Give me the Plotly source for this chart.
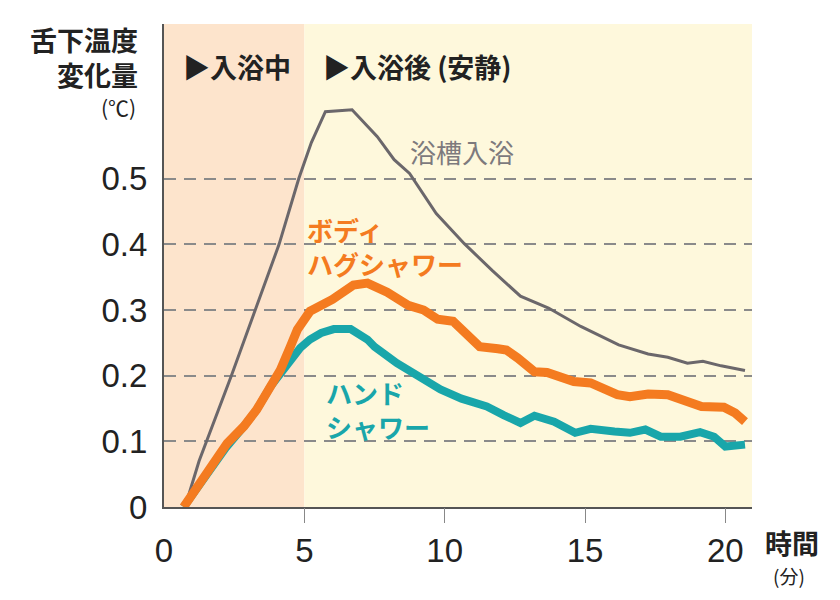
import plotly.graph_objects as go

# ---- data ----
x_tub = [0.75, 1.25, 2.4, 3.25, 4.1, 4.8, 5.25, 5.75, 6.7, 7.6, 8.2, 8.75, 9.7, 10.7,
         11.7, 12.7, 13.7, 14.85, 16.2, 17.25, 17.95, 18.65, 19.2, 19.85, 20.7]
y_tub = [0, 0.07, 0.2, 0.3, 0.4, 0.5, 0.555, 0.602, 0.605, 0.564, 0.529, 0.508, 0.447, 0.401,
         0.36, 0.321, 0.303, 0.275, 0.247, 0.233, 0.228, 0.219, 0.222, 0.215, 0.208]

x_body = [0.7, 1.5, 2.25, 2.85, 3.3, 3.8, 4.15, 4.5, 4.75, 5.2, 6.0, 6.75, 7.25, 7.95, 8.7,
          9.25, 9.75, 10.3, 10.7, 11.25, 11.9, 12.2, 12.6, 13.2, 13.65, 14.6, 15.2, 16.15,
          16.6, 17.25, 17.95, 18.55, 19.15, 19.95, 20.35, 20.7]
y_body = [0, 0.05, 0.097, 0.123, 0.148, 0.184, 0.209, 0.244, 0.27, 0.298, 0.316, 0.338, 0.341,
          0.327, 0.307, 0.3, 0.286, 0.283, 0.265, 0.244, 0.241, 0.239, 0.227, 0.206, 0.205,
          0.191, 0.189, 0.171, 0.168, 0.172, 0.171, 0.163, 0.153, 0.152, 0.143, 0.13]

x_hand = [0.7, 1.5, 2.2, 2.85, 3.3, 3.8, 4.15, 4.5, 4.85, 5.2, 5.6, 6.05, 6.65, 7.25, 7.5,
          8.3, 9.15, 9.85, 10.6, 11.5, 12.1, 12.7, 13.2, 13.9, 14.65, 15.2, 16.05, 16.6,
          17.15, 17.7, 18.4, 19.1, 19.6, 20.0, 20.7]
y_hand = [0, 0.05, 0.09, 0.123, 0.148, 0.184, 0.205, 0.224, 0.242, 0.255, 0.265, 0.271, 0.271,
          0.255, 0.244, 0.219, 0.196, 0.179, 0.165, 0.153, 0.140, 0.128, 0.139, 0.130, 0.113,
          0.119, 0.115, 0.113, 0.118, 0.107, 0.107, 0.114, 0.107, 0.092, 0.095]

x_ticks = [0, 5, 10, 15, 20]
x_tick_marks = [5, 10, 15, 20]
y_ticks = [0, 0.1, 0.2, 0.3, 0.4, 0.5]
y_tick_labels = ["0", "0.1", "0.2", "0.3", "0.4", "0.5"]

phase_during = [0, 5]
phase_after = [5, 20.95]

# ---- style ----
JP = "Noto Sans CJK JP"
NUM = "Liberation Sans"
C_GRAY = "#6b676b"
C_ORANGE = "#f47b20"
C_TEAL = "#19a6aa"
C_PEACH = "#fde4cc"
C_YELLOW = "#fef8dc"

# page body has an 8px margin; figure is sized so it fits the 840x600 window
OFF = 8
W, H = 840 - OFF, 600 - OFF
L, T = 164 - OFF, 24 - OFF
R = 88
PW = W - L - R
B = 93
PH = H - T - B


def px(xs):  # screenshot x -> paper fraction
    return (xs - OFF - L) / PW


def py(ys):  # screenshot y -> paper fraction
    return (H - B - (ys - OFF)) / PH


fig = go.Figure()
fig.add_trace(go.Scatter(x=x_tub, y=y_tub, mode="lines",
                         line=dict(color=C_GRAY, width=3), hoverinfo="skip"))
fig.add_trace(go.Scatter(x=x_hand, y=y_hand, mode="lines",
                         line=dict(color=C_TEAL, width=8), hoverinfo="skip"))
fig.add_trace(go.Scatter(x=x_body, y=y_body, mode="lines",
                         line=dict(color=C_ORANGE, width=9), hoverinfo="skip"))
# overlay axis only for tick marks
fig.add_trace(go.Scatter(x=[None], y=[None], xaxis="x2", yaxis="y", showlegend=False))

fig.add_shape(type="rect", xref="x", yref="paper", x0=phase_during[0], x1=phase_during[1],
              y0=0, y1=1, fillcolor=C_PEACH, line_width=0, layer="below")
fig.add_shape(type="rect", xref="x", yref="paper", x0=phase_after[0], x1=phase_after[1],
              y0=0, y1=1, fillcolor=C_YELLOW, line_width=0, layer="below")

xr = [0, 20.95]
fig.update_layout(
    width=W, height=H, margin=dict(l=L, r=R, t=T, b=B),
    paper_bgcolor="white", plot_bgcolor="white", showlegend=False,
    xaxis=dict(range=xr, tickvals=x_ticks, ticktext=[str(v) for v in x_ticks],
               ticks="", showgrid=False, zeroline=False, showline=True,
               linecolor="#555555", linewidth=2, automargin=False,
               tickfont=dict(family=NUM, size=33, color="#222222"), ticklabelstandoff=13),
    xaxis2=dict(range=xr, overlaying="x", side="bottom", tickvals=x_tick_marks,
                showticklabels=False, ticks="outside", ticklen=15, tickwidth=1,
                tickcolor="#888888", showgrid=False, zeroline=False, showline=False,
                anchor="y"),
    yaxis=dict(range=[0, 0.7356], tickvals=y_ticks, ticktext=y_tick_labels,
               ticks="", showgrid=True, gridcolor="#8a8a8a", gridwidth=1.5,
               griddash="12px,8px", zeroline=False, showline=True,
               linecolor="#555555", linewidth=2, automargin=False,
               tickfont=dict(family=NUM, size=33, color="#222222"), ticklabelstandoff=8),
)

ann = []
# series labels
ann.append(dict(x=px(462), y=py(151), text="浴槽入浴", font=dict(family=JP, size=26, color="#7d7a7d")))
ann.append(dict(x=px(305), y=py(246), text="<b>ボディ<br>ハグシャワー</b>", xanchor="left",
                align="left", font=dict(family=JP, size=26, color=C_ORANGE)))
ann.append(dict(x=px(324), y=py(409), text="<b>ハンド<br>シャワー</b>", xanchor="left",
                align="left", font=dict(family=JP, size=26, color=C_TEAL)))
# phase labels
ann.append(dict(x=px(181), y=py(66), text="<b>▶入浴中</b>", xanchor="left",
                font=dict(family=JP, size=27, color="#222222")))
ann.append(dict(x=px(321), y=py(66), text="<b>▶入浴後 (安静)</b>", xanchor="left",
                font=dict(family=JP, size=27, color="#222222")))
# y-axis title
ann.append(dict(x=px(140), y=py(57), text="<b>舌下温度<br>変化量</b>", xanchor="right",
                align="right", font=dict(family=JP, size=27, color="#222222")))
ann.append(dict(x=px(138), y=py(107), text="(℃)", xanchor="right",
                font=dict(family=JP, size=21, color="#222222")))
# x-axis title
ann.append(dict(x=px(763), y=py(542), text="<b>時間</b>", xanchor="left",
                font=dict(family=JP, size=27, color="#222222")))
ann.append(dict(x=px(771), y=py(575), text="(分)", xanchor="left",
                font=dict(family=JP, size=19, color="#222222")))

for a in ann:
    a.update(xref="paper", yref="paper", showarrow=False, yanchor="middle")
    a.setdefault("xanchor", "center")
fig.update_layout(annotations=ann)

fig.write_html("out.html")
